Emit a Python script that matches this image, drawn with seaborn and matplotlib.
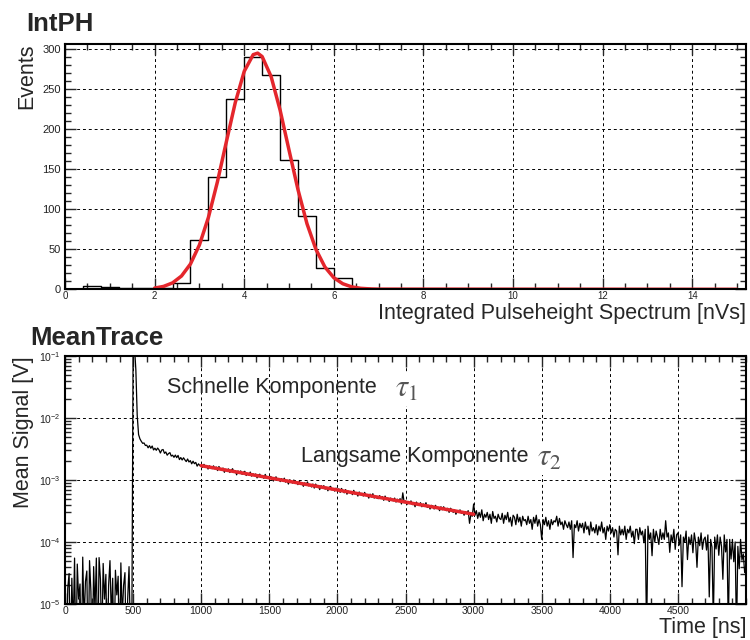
import numpy as np
import pandas as pd
import matplotlib
matplotlib.use('Agg')
import matplotlib.pyplot as plt
import seaborn as sns
from matplotlib.ticker import MultipleLocator, LogLocator, NullFormatter

# ---------------------------
# Datos: espectro integrado (histograma, bins de 0.4 nVs)
# ---------------------------
bin_width = 0.4
counts = [0, 4, 3, 1, 1, 2, 8, 62, 140, 238, 290, 268, 161, 91, 26, 14, 2, 0, 0, 0,
          0, 0, 0, 0, 0, 0, 0, 0, 0, 0, 0, 0, 0, 0, 0, 0, 0, 0]

# curva de ajuste (gauss)
fit_x = [2.0, 2.2, 2.4, 2.6, 2.8, 3.0, 3.2, 3.4, 3.6, 3.8, 4.0, 4.2, 4.3, 4.4, 4.6,
         4.8, 5.0, 5.2, 5.4, 5.6, 5.8, 6.0, 6.2, 6.4, 6.6, 6.8, 7.0, 15.0]
fit_y = [1.5, 3.6, 8.0, 16.6, 31.6, 55.4, 89.7, 133.9, 184.0, 233.2, 272.3, 293.1, 295.0,
         290.7, 265.7, 223.9, 173.8, 124.4, 82.0, 49.9, 27.9, 14.4, 6.9, 3.0, 1.2, 0.5, 0.2, 0.0]

# ---------------------------
# Datos: traza media (muestras cada 10 ns, en mV)
# ---------------------------
sample_ns = 10
baseline_mv = [0.052, 0.001, 0.018, 0.031, 0.001, 0.026, 0.004, 0.055, 0.001, 0.044,
               0.012, 0.021, 0.001, 0.057, 0.005, 0.023, 0.034, 0.001, 0.050, 0.016,
               0.001, 0.040, 0.008, 0.055, 0.001, 0.056, 0.025, 0.002, 0.045, 0.012,
               0.030, 0.001, 0.020, 0.050, 0.006, 0.026, 0.001, 0.035, 0.014, 0.028,
               0.001, 0.046, 0.006, 0.020, 0.032, 0.001, 0.012, 0.040, 0.003, 0.002]
pulse_mv = [150, 140, 60, 11, 5.4, 4.6, 4.2, 3.9, 3.95, 3.6,
            3.64, 3.30, 3.58, 3.25, 3.53, 3.05, 3.25, 3.01, 3.27, 3.06,
            2.72, 3.04, 3.10, 2.69, 2.83, 2.51, 2.67, 2.76, 2.43, 2.51,
            2.32, 2.52, 2.29, 2.49, 2.13, 2.30, 2.10, 2.28, 2.11, 1.98,
            2.18, 1.95, 2.05, 1.82, 2.01, 1.83, 1.92, 1.67, 1.82, 1.70]
slow_mv = [1.73, 1.60, 1.79, 1.62, 1.71, 1.50, 1.69, 1.61, 1.52, 1.69,
           1.51, 1.62, 1.42, 1.65, 1.50, 1.43, 1.56, 1.33, 1.49, 1.40,
           1.51, 1.32, 1.42, 1.52, 1.33, 1.41, 1.21, 1.40, 1.31, 1.40,
           1.23, 1.33, 1.38, 1.18, 1.27, 1.20, 1.34, 1.15, 1.26, 1.19,
           1.25, 1.08, 1.20, 1.24, 1.10, 1.16, 1.06, 1.23, 1.07, 1.11,
           1.04, 1.14, 1.06, 0.96, 1.09, 1.12, 0.98, 1.04, 0.94, 1.05,
           0.97, 1.07, 0.92, 0.99, 0.86, 1.01, 0.95, 0.89, 1.00, 0.89,
           0.94, 0.84, 0.95, 0.87, 0.89, 0.79, 0.90, 0.83, 0.93, 0.80,
           0.84, 0.77, 0.86, 0.74, 0.86, 0.78, 0.81, 0.70, 0.81, 0.74,
           0.81, 0.71, 0.76, 0.67, 0.76, 0.79, 0.69, 0.72, 0.66, 0.74,
           0.67, 0.72, 0.63, 0.73, 0.67, 0.62, 0.70, 0.59, 0.66, 0.63,
           0.65, 0.58, 0.68, 0.59, 0.62, 0.55, 0.64, 0.58, 0.61, 0.55,
           0.63, 0.56, 0.58, 0.51, 0.59, 0.53, 0.60, 0.51, 0.54, 0.51,
           0.50, 0.56, 0.51, 0.54, 0.47, 0.55, 0.49, 0.51, 0.45, 0.51,
           0.49, 0.46, 0.51, 0.44, 0.49, 0.45, 0.50, 0.41, 0.62, 0.43,
           0.46, 0.40, 0.45, 0.42, 0.46, 0.40, 0.42, 0.37, 0.44, 0.40,
           0.39, 0.43, 0.37, 0.41, 0.38, 0.43, 0.36, 0.39, 0.34, 0.39,
           0.38, 0.34, 0.39, 0.35, 0.36, 0.32, 0.37, 0.33, 0.37, 0.33,
           0.32, 0.35, 0.30, 0.35, 0.33, 0.30, 0.33, 0.28, 0.32, 0.30,
           0.33, 0.29, 0.31, 0.27, 0.31, 0.29, 0.32, 0.20, 0.28, 0.26]
tail_mv = [0.41, 0.27, 0.32, 0.24, 0.30, 0.25, 0.33, 0.22, 0.28, 0.25,
           0.30, 0.23, 0.28, 0.20, 0.31, 0.24, 0.26, 0.21, 0.28, 0.24,
           0.23, 0.29, 0.20, 0.27, 0.23, 0.30, 0.21, 0.25, 0.18, 0.27,
           0.25, 0.19, 0.28, 0.21, 0.25, 0.18, 0.26, 0.22, 0.23, 0.19,
           0.26, 0.20, 0.23, 0.16, 0.25, 0.20, 0.27, 0.18, 0.23, 0.19,
           0.11, 0.23, 0.19, 0.25, 0.18, 0.22, 0.16, 0.23, 0.19, 0.22,
           0.21, 0.26, 0.18, 0.24, 0.19, 0.21, 0.16, 0.22, 0.19, 0.17,
           0.21, 0.16, 0.22, 0.056, 0.19, 0.17, 0.22, 0.15, 0.20, 0.17,
           0.20, 0.14, 0.21, 0.16, 0.18, 0.13, 0.21, 0.15, 0.17, 0.14,
           0.19, 0.13, 0.18, 0.15, 0.21, 0.14, 0.17, 0.11, 0.18, 0.15,
           0.19, 0.14, 0.17, 0.12, 0.16, 0.15, 0.062, 0.18, 0.13, 0.16,
           0.13, 0.18, 0.11, 0.16, 0.14, 0.18, 0.12, 0.15, 0.094, 0.16,
           0.16, 0.11, 0.17, 0.13, 0.15, 0.097, 0.16, 0.003, 0.18, 0.11,
           0.14, 0.06, 0.16, 0.10, 0.15, 0.12, 0.091, 0.16, 0.11, 0.14,
           0.11, 0.22, 0.12, 0.14, 0.068, 0.13, 0.098, 0.16, 0.076, 0.13,
           0.14, 0.089, 0.13, 0.019, 0.12, 0.099, 0.15, 0.052, 0.12, 0.091,
           0.13, 0.067, 0.14, 0.10, 0.039, 0.12, 0.087, 0.14, 0.076, 0.11,
           0.12, 0.074, 0.13, 0.013, 0.11, 0.083, 0.005, 0.12, 0.077, 0.13,
           0.061, 0.12, 0.085, 0.025, 0.13, 0.069, 0.11, 0.004, 0.11, 0.053,
           0.11, 0.048, 0.10, 0.003, 0.085, 0.037, 0.11, 0.051, 0.064, 0.032]

# ajuste exponencial de la componente lenta
fit_t = [1000, 3000]
fit_mv = [1.70, 0.28]

red = '#e4262c'

sns.set_style('ticks')
plt.rcParams['font.family'] = ['Liberation Sans', 'DejaVu Sans']
plt.rcParams['axes.linewidth'] = 1.5

fig = plt.figure(figsize=(7.5, 6.4), dpi=100)
ax1 = fig.add_axes([0.0867, 0.548, 0.908, 0.384])
ax2 = fig.add_axes([0.0867, 0.0563, 0.908, 0.3875])


def root_style(ax):
    ax.grid(True, which='major', color='black', linestyle=(0, (3, 3)), linewidth=0.7)
    ax.tick_params(which='both', direction='in', top=True, right=True,
                   width=1, labelcolor='#222222', pad=3)
    ax.tick_params(axis='x', which='both', pad=1.5)
    ax.tick_params(which='major', length=8)
    ax.tick_params(which='minor', length=4)
    for s in ax.spines.values():
        s.set_linewidth(1.5)
        s.set_color('black')


# ---------------------------
# Panel 1: IntPH
# ---------------------------
hist = pd.DataFrame({'x': np.arange(len(counts)) * bin_width + bin_width / 2,
                     'n': counts})
sns.histplot(data=hist, x='x', weights='n', binwidth=bin_width,
             binrange=(0, len(counts) * bin_width), element='step',
             fill=False, color='black', linewidth=1.0, ax=ax1)
sns.lineplot(x=fit_x, y=fit_y, color=red, linewidth=2.5, estimator=None, ax=ax1)
ax1.set_xlim(0, 15.2)
ax1.set_ylim(0, 307)
ax1.xaxis.set_major_locator(MultipleLocator(2))
ax1.xaxis.set_minor_locator(MultipleLocator(0.5))
ax1.yaxis.set_major_locator(MultipleLocator(50))
ax1.yaxis.set_minor_locator(MultipleLocator(10))
root_style(ax1)
ax1.tick_params(axis='x', labelsize=7)
ax1.tick_params(axis='y', labelsize=8)
ax1.set_ylabel('Events', loc='top', fontsize=15.5, labelpad=4)
ax1.set_xlabel('Integrated Pulseheight Spectrum [nVs]', loc='right', fontsize=15.5, labelpad=1.5)

# ---------------------------
# Panel 2: MeanTrace
# ---------------------------
trace_mv = baseline_mv + pulse_mv + slow_mv + tail_mv
trace = pd.DataFrame({'t': np.arange(len(trace_mv)) * sample_ns,
                      'v': np.array(trace_mv) / 1000.0})
sns.lineplot(data=trace, x='t', y='v', color='black', linewidth=0.9, estimator=None, ax=ax2)
sns.lineplot(x=fit_t, y=np.array(fit_mv) / 1000.0, color=red, linewidth=2.5,
             estimator=None, ax=ax2)
ax2.set_yscale('log')
ax2.set_xlim(0, 5000)
ax2.set_ylim(1e-5, 1e-1)
ax2.set_xticks(np.arange(0, 5000, 500))
ax2.xaxis.set_minor_locator(MultipleLocator(100))
ax2.yaxis.set_major_locator(LogLocator(base=10, numticks=10))
ax2.yaxis.set_minor_locator(LogLocator(base=10, subs=np.arange(2, 10), numticks=20))
ax2.yaxis.set_minor_formatter(NullFormatter())
root_style(ax2)
ax2.tick_params(axis='both', labelsize=7.5)
ax2.set_ylabel('Mean Signal [V]', loc='top', fontsize=15.5, labelpad=4)
ax2.set_xlabel('Time [ns]', loc='right', fontsize=15.5, labelpad=0.5)

ax2.text(750, 3.05e-2, 'Schnelle Komponente', fontsize=15.5, va='center', ha='left')
ax2.text(2425, 2.9e-2, r'$\tau_1$', fontsize=22, va='center', ha='left', color='#555555',
         math_fontfamily='stix', bbox=dict(facecolor='white', edgecolor='none', pad=1))
ax2.text(1733, 2.38e-3, 'Langsame Komponente', fontsize=15.5, va='center', ha='left')
ax2.text(3465, 2.25e-3, r'$\tau_2$', fontsize=22, va='center', ha='left', color='#555555',
         math_fontfamily='stix', bbox=dict(facecolor='white', edgecolor='none', pad=1))

# titulos de los paneles
fig.text(0.035, 0.952, 'IntPH', fontsize=18.5, fontweight='bold', ha='left', va='baseline')
fig.text(0.040, 0.461, 'MeanTrace', fontsize=18.5, fontweight='bold', ha='left', va='baseline')

fig.savefig('out.png', dpi=100)
